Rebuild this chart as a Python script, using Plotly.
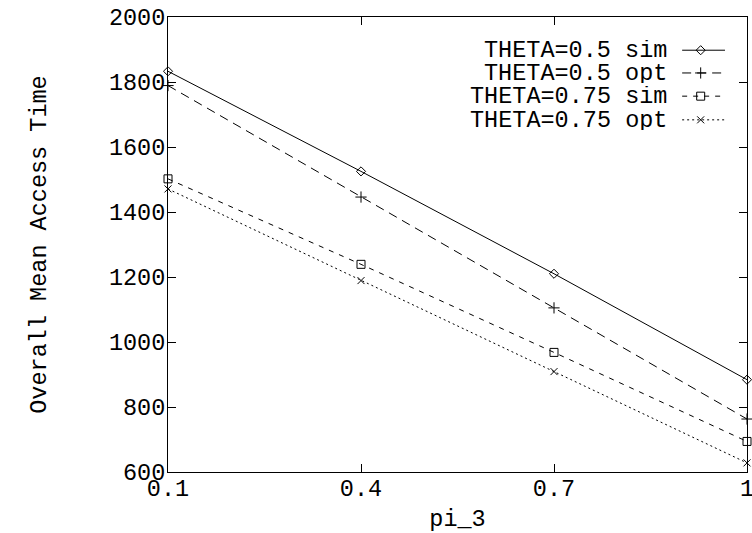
import plotly.graph_objects as go

pi_3 = [0.1, 0.4, 0.7, 1.0]
theta05_sim = [1833, 1525, 1210, 884]
theta05_opt = [1789, 1446, 1105, 763]
theta075_sim = [1502, 1239, 968, 694]
theta075_opt = [1471, 1189, 909, 628]

names = ["THETA=0.5 sim", "THETA=0.5 opt", "THETA=0.75 sim", "THETA=0.75 opt"]
series = [theta05_sim, theta05_opt, theta075_sim, theta075_opt]
dashes = ["solid", "9px,6px", "5px,6px", "2px,3px"]
symbols = ["diamond-open", "cross-thin-open", "square-open", "x-thin-open"]
sizes = [7, 8, 8, 7]

x_ticks = [0.1, 0.4, 0.7, 1.0]
x_ticktext = ["0.1", "0.4", "0.7", "1"]
y_ticks = [600, 800, 1000, 1200, 1400, 1600, 1800, 2000]

FONT = "Liberation Mono, Courier New, monospace"
FS = 23.5

fig = go.Figure()
for name, ys, d, s, sz in zip(names, series, dashes, symbols, sizes):
    fig.add_trace(go.Scatter(
        x=pi_3, y=ys, mode="lines+markers", name=name, showlegend=False,
        line=dict(color="black", width=1, dash=d),
        marker=dict(symbol=s, size=sz, color="black", line=dict(color="black", width=1)),
        cliponaxis=False,
    ))

# manual legend (gnuplot style: text right-aligned, sample on the right)
leg_y = [0.927, 0.877, 0.826, 0.774]
x_text = 0.864
x_l0, x_l1, x_m = 0.888, 0.962, 0.92
for name, yy, d, s, sz in zip(names, leg_y, dashes, symbols, sizes):
    fig.add_annotation(xref="paper", yref="paper", x=x_text, y=yy, text=name,
                       showarrow=False, xanchor="right", yanchor="middle",
                       height=20, valign="middle", borderpad=0,
                       font=dict(family=FONT, size=FS, color="black"))
    fig.add_shape(type="line", xref="paper", yref="paper", x0=x_l0, x1=x_l1, y0=yy, y1=yy,
                  line=dict(color="black", width=1, dash=d))
    fig.add_trace(go.Scatter(x=[x_m], y=[yy], xaxis="x2", yaxis="y2", mode="markers",
                             showlegend=False, hoverinfo="skip",
                             marker=dict(symbol=s, size=sz, color="black",
                                         line=dict(color="black", width=1))))

axis_common = dict(showline=True, linecolor="black", linewidth=1, mirror="ticks",
                   ticks="inside", ticklen=8, tickcolor="black", tickwidth=1,
                   showgrid=False, zeroline=False, ticklabeloverflow="allow",
                   automargin=False,
                   tickfont=dict(family=FONT, size=FS, color="black"))

fig.update_layout(
    width=752, height=533,
    margin=dict(l=168, r=5, t=17, b=61),
    paper_bgcolor="white", plot_bgcolor="white",
    font=dict(family=FONT, size=FS, color="black"),
    xaxis=dict(range=[0.1, 1.0], tickvals=x_ticks, ticktext=x_ticktext,
               ticklabelstandoff=-5,
               title=dict(text="pi_3", font=dict(family=FONT, size=FS), standoff=8),
               **axis_common),
    yaxis=dict(range=[600, 2000], tickvals=y_ticks, ticklabelstandoff=-3,
               title=dict(text="Overall Mean Access Time", font=dict(family=FONT, size=FS), standoff=55),
               **axis_common),
    xaxis2=dict(overlaying="x", range=[0, 1], visible=False),
    yaxis2=dict(overlaying="y", range=[0, 1], visible=False),
)

fig.write_html("out.html")
